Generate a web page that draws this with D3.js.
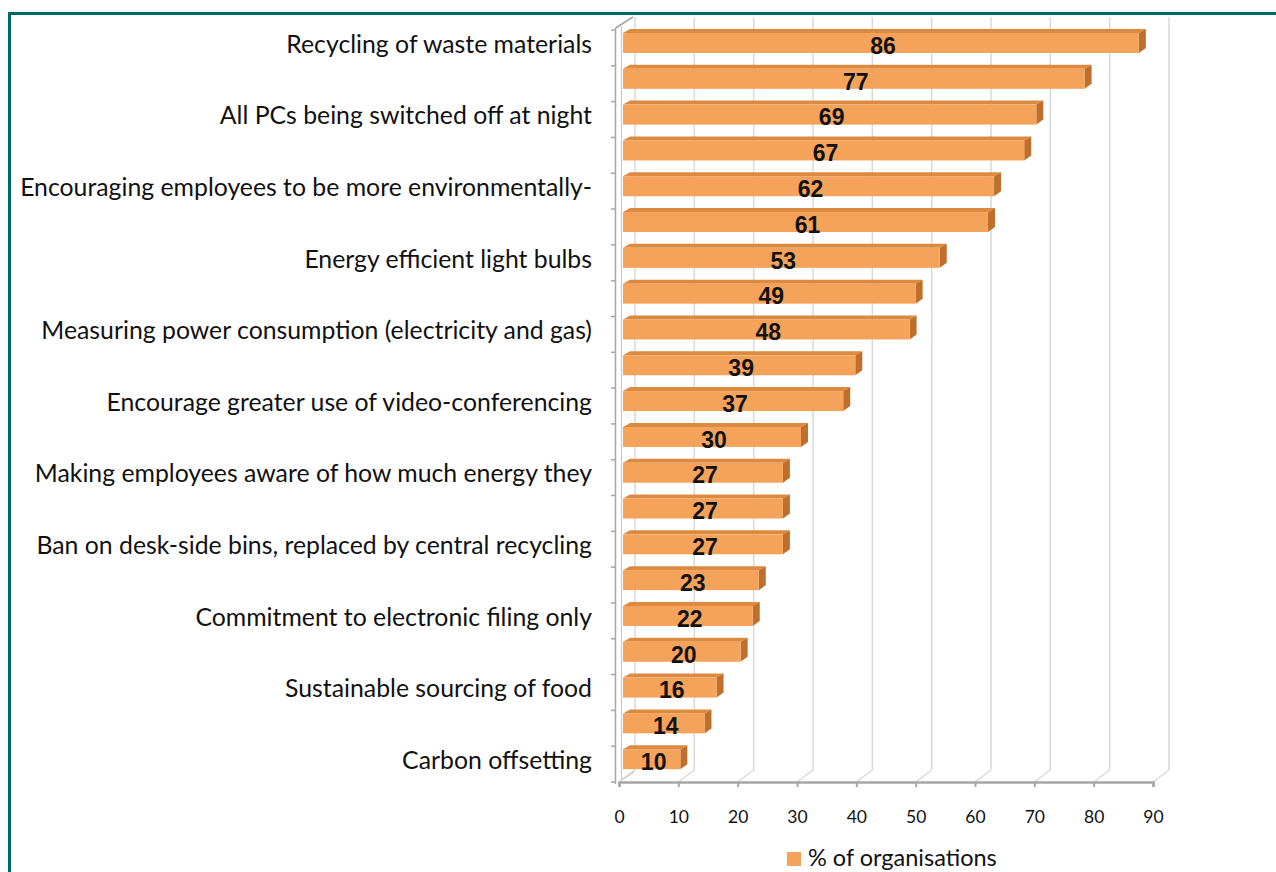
<!DOCTYPE html>
<html>
<head>
<meta charset="utf-8">
<script src="https://cdn.jsdelivr.net/npm/d3@7"></script>
<style>
  html, body { margin: 0; padding: 0; background: #fff; }
  svg { display: block; }
</style>
</head>
<body>
<svg id="chart" width="1276" height="872"></svg>
<script>
// Green office measures, share of organisations (%), top to bottom.
// Only every other category carries a printed label on the axis.
const categoryLabels = [
  "Recycling of waste materials", "",
  "All PCs being switched off at night", "",
  "Encouraging employees to be more environmentally-", "",
  "Energy efficient light bulbs", "",
  "Measuring power consumption (electricity and gas)", "",
  "Encourage greater use of video-conferencing", "",
  "Making employees aware of how much energy they", "",
  "Ban on desk-side bins, replaced by central recycling", "",
  "Commitment to electronic filing only", "",
  "Sustainable sourcing of food", "",
  "Carbon offsetting"
];
const shareValues = [86, 77, 69, 67, 62, 61, 53, 49, 48, 39, 37, 30, 27, 27, 27, 23, 22, 20, 16, 14, 10];
const axisTicks = [0, 10, 20, 30, 40, 50, 60, 70, 80, 90];
const seriesName = "% of organisations";

const svg = d3.select("#chart");
const FONT = "Lato, 'Open Sans', sans-serif";

// frame
const teal = "#006868";
svg.append("line").attr("x1", 8).attr("x2", 1276).attr("y1", 13.5).attr("y2", 13.5)
  .attr("stroke", teal).attr("stroke-width", 3);
svg.append("line").attr("x1", 9.5).attr("x2", 9.5).attr("y1", 12).attr("y2", 872)
  .attr("stroke", teal).attr("stroke-width", 3);

// plot geometry (front plane + depth offset of the 3-D box)
const plotTop = 30, plotBottom = 782;
const depthX = 16, depthY = 12;
const x = d3.scaleLinear().domain([0, 90]).range([619, 1153]);
const xBar = d3.scaleLinear().domain([0, 90]).range([620, 1163]);
const y = d3.scaleBand().domain(d3.range(shareValues.length)).range([plotTop, plotBottom]).padding(0);

const gridColor = "#d9d9d9";
const axisColor = "#a6a6a6";

// back wall gridlines and floor diagonals
const grid = svg.append("g");
axisTicks.forEach(t => {
  const xf = x(t), xb = xf + depthX;
  grid.append("line").attr("x1", xb).attr("x2", xb).attr("y1", 17).attr("y2", plotBottom - depthY)
    .attr("stroke", gridColor).attr("stroke-width", 1.5);
  grid.append("line").attr("x1", xf).attr("x2", xb).attr("y1", plotBottom).attr("y2", plotBottom - depthY)
    .attr("stroke", gridColor).attr("stroke-width", 1.5);
});

// left wall
const wall = svg.append("g").attr("stroke", axisColor).attr("fill", "none");
wall.append("line").attr("x1", 615.5).attr("x2", 615.5).attr("y1", 28).attr("y2", plotBottom + 2).attr("stroke-width", 1.5);
wall.append("line").attr("x1", 621.5).attr("x2", 621.5).attr("y1", 26).attr("y2", plotBottom - 2).attr("stroke", "#c8c8c8").attr("stroke-width", 1.2);
wall.append("line").attr("x1", 615.5).attr("x2", 633).attr("y1", 28).attr("y2", 17).attr("stroke-width", 1.5);
wall.append("line").attr("x1", 621.5).attr("x2", 634).attr("y1", plotBottom - 2).attr("y2", plotBottom - 10).attr("stroke", "#c8c8c8").attr("stroke-width", 1.2);
// category boundary ticks
d3.range(shareValues.length + 1).forEach(i => {
  const yy = plotTop + i * y.step();
  wall.append("line").attr("x1", 611).attr("x2", 616).attr("y1", yy).attr("y2", yy).attr("stroke-width", 1.5);
});

// bottom axis
const xAxis = svg.append("g").attr("transform", `translate(0,${plotBottom})`)
  .call(d3.axisBottom(x).tickValues(axisTicks).tickSize(5).tickPadding(24));
xAxis.select(".domain").attr("stroke", axisColor).attr("stroke-width", 2.5);
xAxis.selectAll(".tick line").attr("stroke", axisColor).attr("stroke-width", 2);
xAxis.selectAll(".tick text").attr("font-family", FONT).attr("font-size", 17.5).attr("fill", "#111");

// 3-D bars
const frontCol = "#f5a35a", topCol = "#dc8a40", sideCol = "#bf6f2b";
const faceH = 20, topH = 4, slant = 7;
const bars = svg.append("g").selectAll("g").data(shareValues).join("g");
bars.each(function (v, i) {
  const g = d3.select(this);
  const x0 = 623, x1 = xBar(v);
  const yt = y(i) + 3, yb = yt + faceH;
  g.append("path").attr("fill", topCol)
    .attr("d", `M${x0},${yt}L${x1},${yt}L${x1 + slant},${yt - topH}L${x0 + slant},${yt - topH}Z`);
  g.append("path").attr("fill", sideCol)
    .attr("d", `M${x1},${yt}L${x1 + slant},${yt - topH}L${x1 + slant},${yb - topH - 1}L${x1},${yb}Z`);
  g.append("rect").attr("x", x0).attr("y", yt).attr("width", x1 - x0).attr("height", faceH).attr("fill", frontCol);
});

// value labels
svg.append("g").selectAll("text").data(shareValues).join("text")
  .attr("x", (v) => (623 + xBar(v)) / 2 + 2)
  .attr("y", (v, i) => y(i) + 15.5)
  .attr("dy", "0.36em")
  .attr("text-anchor", "middle")
  .attr("font-family", "'Liberation Sans', Arial, sans-serif")
  .attr("font-weight", "bold").attr("font-size", 23).attr("fill", "#111")
  .text(v => v);

// category labels
const catFont = 24.8;
svg.append("g").selectAll("text").data(categoryLabels).join("text")
  .attr("x", 592)
  .attr("y", (d, i) => y(i) + 14)
  .attr("dy", "0.35em")
  .attr("text-anchor", "end")
  .attr("font-family", FONT).attr("font-size", catFont).attr("fill", "#111")
  .text(d => d);

// legend
const legend = svg.append("g");
legend.append("rect").attr("x", 787).attr("y", 852).attr("width", 14).attr("height", 14).attr("fill", frontCol);
legend.append("text").attr("x", 808).attr("y", 858).attr("dy", "0.35em")
  .attr("font-family", FONT).attr("font-size", 23.5).attr("fill", "#111").text(seriesName);
</script>
</body>
</html>
